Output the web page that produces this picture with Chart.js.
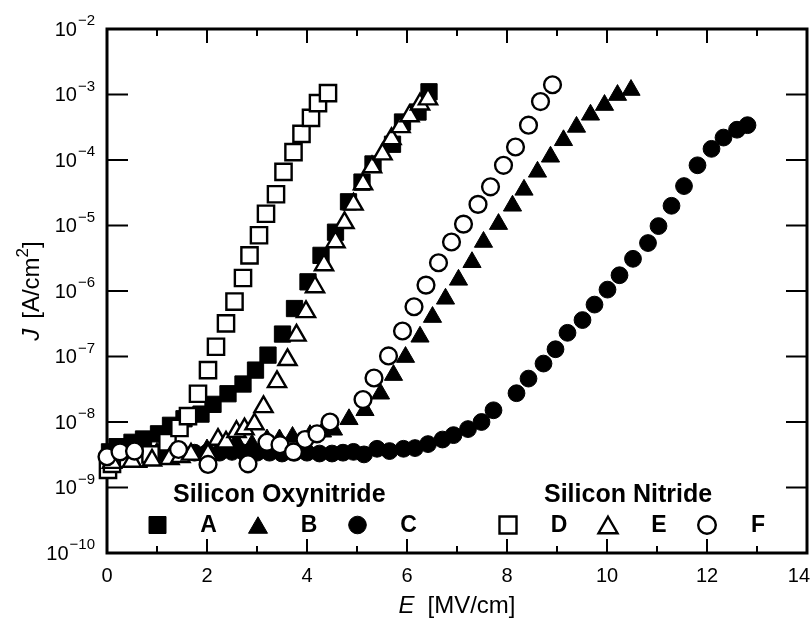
<!DOCTYPE html>
<html>
<head>
<meta charset="utf-8">
<script src="https://cdn.jsdelivr.net/npm/chart.js@4.4.0/dist/chart.umd.min.js"></script>
<style>
  html, body { margin: 0; padding: 0; background: #fff; }
</style>
</head>
<body>
<canvas id="jeChart" width="811" height="622"></canvas>
<script>
// field E [MV/cm] and current density J [A/cm2]
const eA = [0.05, 0.2, 0.5, 0.73, 1.03, 1.27, 1.54, 1.88, 2.12, 2.42, 2.72, 2.97, 3.22, 3.51, 3.75, 4.02, 4.28, 4.57, 4.83, 5.10, 5.32, 5.71, 5.91, 6.22, 6.44];
const jA = [3.5e-9, 4.2e-9, 4.9e-9, 5.5e-9, 6.6e-9, 8.9e-9, 1.12e-8, 1.32e-8, 1.86e-8, 2.7e-8, 3.8e-8, 6.2e-8, 1.05e-7, 2.2e-7, 5.4e-7, 1.38e-6, 3.5e-6, 7.9e-6, 2.3e-5, 4.6e-5, 8.7e-5, 1.74e-4, 3.8e-4, 5.4e-4, 1.1e-3];

const eB = [0.1, 0.5, 1.0, 1.5, 2.0, 2.3, 2.59, 2.9, 3.2, 3.45, 3.71, 4.06, 4.31, 4.53, 4.84, 5.16, 5.47, 5.73, 5.97, 6.26, 6.51, 6.77, 7.03, 7.30, 7.53, 7.83, 8.11, 8.34, 8.61, 8.87, 9.13, 9.39, 9.67, 9.95, 10.21, 10.48];
const jB = [2.8e-9, 3.2e-9, 3.4e-9, 3.5e-9, 3.8e-9, 4.2e-9, 4.9e-9, 4.5e-9, 5.4e-9, 5.4e-9, 5.9e-9, 6.3e-9, 7.1e-9, 7.6e-9, 1.1e-8, 1.51e-8, 2.7e-8, 5.2e-8, 9.8e-8, 2.0e-7, 4.0e-7, 7.6e-7, 1.48e-6, 2.75e-6, 5.6e-6, 1.05e-5, 2.0e-5, 3.5e-5, 6.6e-5, 1.12e-4, 2.0e-4, 3.2e-4, 4.9e-4, 6.9e-4, 9.8e-4, 1.17e-3];

const eC = [1.0, 1.25, 1.5, 1.75, 2.0, 2.25, 2.5, 2.75, 3.0, 3.25, 3.5, 3.75, 4.0, 4.25, 4.5, 4.72, 4.93, 5.14, 5.40, 5.65, 5.93, 6.16, 6.42, 6.71, 6.93, 7.22, 7.49, 7.73, 8.19, 8.43, 8.73, 8.97, 9.21, 9.51, 9.75, 10.01, 10.25, 10.52, 10.82, 11.03, 11.29, 11.54, 11.81, 12.09, 12.33, 12.60, 12.81];
const jC = [3.2e-9, 3.2e-9, 3.3e-9, 3.4e-9, 3.4e-9, 3.4e-9, 3.5e-9, 3.4e-9, 3.4e-9, 3.4e-9, 3.3e-9, 3.4e-9, 3.4e-9, 3.3e-9, 3.3e-9, 3.4e-9, 3.5e-9, 3.2e-9, 3.9e-9, 3.6e-9, 3.9e-9, 4.0e-9, 4.6e-9, 5.4e-9, 6.3e-9, 7.8e-9, 1.0e-8, 1.51e-8, 2.75e-8, 4.6e-8, 7.8e-8, 1.29e-7, 2.3e-7, 3.6e-7, 6.2e-7, 1.05e-6, 1.74e-6, 3.1e-6, 5.4e-6, 9.8e-6, 2.0e-5, 4.0e-5, 8.3e-5, 1.48e-4, 2.2e-4, 2.9e-4, 3.4e-4];

const eD = [0.02, 0.1, 0.42, 0.63, 0.87, 1.21, 1.45, 1.62, 1.82, 2.02, 2.18, 2.38, 2.55, 2.72, 2.85, 3.04, 3.18, 3.38, 3.53, 3.73, 3.89, 4.08, 4.22, 4.42];
const jD = [1.86e-9, 2.3e-9, 2.75e-9, 2.75e-9, 3.2e-9, 4.9e-9, 8.1e-9, 1.23e-8, 2.7e-8, 6.2e-8, 1.41e-7, 3.2e-7, 6.9e-7, 1.58e-6, 3.5e-6, 7.1e-6, 1.51e-5, 3.0e-5, 6.6e-5, 1.32e-4, 2.5e-4, 4.4e-4, 7.4e-4, 1.05e-3];

const eE = [0.1, 0.5, 0.9, 1.25, 1.47, 1.68, 2.02, 2.22, 2.38, 2.59, 2.75, 2.95, 3.13, 3.40, 3.61, 3.79, 3.98, 4.16, 4.34, 4.57, 4.75, 4.93, 5.12, 5.30, 5.51, 5.69, 5.87, 6.05, 6.26, 6.42];
const jE = [2.4e-9, 2.5e-9, 2.6e-9, 2.75e-9, 2.95e-9, 3.2e-9, 3.2e-9, 5.4e-9, 4.9e-9, 7.1e-9, 7.8e-9, 9.3e-9, 1.7e-8, 4.1e-8, 8.9e-8, 2.1e-7, 4.8e-7, 1.15e-6, 2.5e-6, 5.6e-6, 1.1e-5, 2.1e-5, 4.3e-5, 7.8e-5, 1.23e-4, 2.1e-4, 3.2e-4, 4.7e-4, 7.1e-4, 8.5e-4];

const eF = [0.0, 0.26, 0.55, 1.43, 2.02, 2.82, 3.20, 3.46, 3.73, 3.96, 4.20, 4.46, 5.12, 5.34, 5.63, 5.91, 6.14, 6.38, 6.63, 6.89, 7.13, 7.42, 7.67, 7.93, 8.17, 8.43, 8.67, 8.91];
const jF = [2.95e-9, 3.5e-9, 3.6e-9, 3.8e-9, 2.25e-9, 2.3e-9, 4.9e-9, 4.5e-9, 3.5e-9, 5.4e-9, 6.6e-9, 1.0e-8, 2.2e-8, 4.7e-8, 1.02e-7, 2.45e-7, 5.75e-7, 1.23e-6, 2.7e-6, 5.6e-6, 1.05e-5, 2.1e-5, 3.9e-5, 8.3e-5, 1.58e-4, 3.4e-4, 7.8e-4, 1.41e-3];

const seriesNames = ['A', 'B', 'C', 'D', 'E', 'F'];
const groupTitles = ['Silicon Oxynitride', 'Silicon Nitride'];

const xMajorTicks = [0, 2, 4, 6, 8, 10, 12, 14];
const xMinorTicks = [1, 3, 5, 7, 9, 11, 13];
const yTickExponents = [-2, -3, -4, -5, -6, -7, -8, -9, -10];

const FONT = '"Liberation Sans", Arial, Helvetica, sans-serif';

// marker look per series: shape + filled/open
const shapes = ['rect', 'triangle', 'circle', 'rect', 'triangle', 'circle'];
const filled = [true, true, true, false, false, false];
const radius = { rect: 11.5, triangle: 10.5, circle: 8.4 };

const eValues = [eA, eB, eC, eD, eE, eF];
const jValues = [jA, jB, jC, jD, jE, jF];

const datasets = seriesNames.map((name, i) => ({
  label: name,
  data: eValues[i].map((e, k) => ({ x: e, y: jValues[i][k] })),
  pointStyle: shapes[i],
  pointRadius: radius[shapes[i]],
  backgroundColor: filled[i] ? '#000' : '#fff',
  borderColor: '#000',
  borderWidth: filled[i] ? 1 : 2.4,
  showLine: false,
  clip: false,
  order: 6 - i // open symbols end up on top
}));

// rich text: pieces drawn one after the other
function drawPieces(ctx, pieces, x, y, align) {
  const widths = pieces.map(p => { ctx.font = p.font; return ctx.measureText(p.t).width + (p.gap || 0); });
  const total = widths.reduce((a, b) => a + b, 0);
  let cx = align === 'center' ? x - total / 2 : x;
  ctx.textAlign = 'left';
  ctx.textBaseline = 'middle';
  pieces.forEach((p, i) => {
    ctx.font = p.font;
    ctx.fillText(p.t, cx, y + (p.dy || 0));
    cx += widths[i];
  });
}

function drawMarker(ctx, shape, cx, cy, isFilled) {
  ctx.beginPath();
  if (shape === 'rect') {
    ctx.rect(cx - 8.5, cy - 8.5, 17, 17);
  } else if (shape === 'circle') {
    ctx.arc(cx, cy, 8.8, 0, Math.PI * 2);
  } else {
    const r = 11;
    cy += r / 4;
    ctx.moveTo(cx, cy - r);
    ctx.lineTo(cx + r * 0.866, cy + r / 2);
    ctx.lineTo(cx - r * 0.866, cy + r / 2);
    ctx.closePath();
  }
  ctx.fillStyle = isFilled ? '#000' : '#fff';
  ctx.fill();
  ctx.lineWidth = isFilled ? 1 : 2.4;
  ctx.strokeStyle = '#000';
  ctx.stroke();
}

const frameAndText = {
  id: 'frameAndText',
  beforeDatasetsDraw(chart) {
    const { ctx, chartArea: a, scales: { x, y } } = chart;
    ctx.save();
    ctx.strokeStyle = '#000';
    ctx.lineWidth = 2;
    ctx.beginPath();
    xMajorTicks.forEach(v => {
      const px = x.getPixelForValue(v);
      ctx.moveTo(px, a.bottom); ctx.lineTo(px, a.bottom - 14);
      ctx.moveTo(px, a.top); ctx.lineTo(px, a.top + 14);
    });
    xMinorTicks.forEach(v => {
      const px = x.getPixelForValue(v);
      ctx.moveTo(px, a.bottom); ctx.lineTo(px, a.bottom - 7);
      ctx.moveTo(px, a.top); ctx.lineTo(px, a.top + 7);
    });
    yTickExponents.forEach(p => {
      const py = y.getPixelForValue(Math.pow(10, p));
      ctx.moveTo(a.left, py); ctx.lineTo(a.left + 21, py);
      ctx.moveTo(a.right, py); ctx.lineTo(a.right - 21, py);
    });
    ctx.stroke();
    ctx.lineWidth = 3;
    ctx.strokeRect(a.left, a.top, a.right - a.left, a.bottom - a.top);

    // tick labels (last one kept inside the canvas, as in the original)
    ctx.fillStyle = '#000';
    ctx.font = '20px ' + FONT;
    ctx.textAlign = 'center';
    ctx.textBaseline = 'middle';
    xMajorTicks.forEach(v => {
      const label = String(v);
      const half = ctx.measureText(label).width / 2;
      const px = Math.min(x.getPixelForValue(v), chart.width - half - 1);
      ctx.fillText(label, px, a.bottom + 23);
    });

    yTickExponents.forEach(p => {
      const py = y.getPixelForValue(Math.pow(10, p));
      const exp = '\u2212' + Math.abs(p);
      ctx.font = '15px ' + FONT;
      const ew = ctx.measureText(exp).width;
      const right = a.left - 12;
      ctx.textAlign = 'left';
      ctx.textBaseline = 'middle';
      ctx.fillText(exp, right - ew, py - 8);
      ctx.font = '20px ' + FONT;
      ctx.textAlign = 'right';
      ctx.fillText('10', right - ew - 1, py + 1);
    });

    // axis titles
    drawPieces(ctx, [
      { t: 'E', font: 'italic 24px ' + FONT, gap: 13 },
      { t: '[MV/cm]', font: '24px ' + FONT }
    ], (a.left + a.right) / 2, 606, 'center');

    ctx.translate(32, (a.top + a.bottom) / 2);
    ctx.rotate(-Math.PI / 2);
    drawPieces(ctx, [
      { t: 'J', font: 'italic 24px ' + FONT, gap: 10 },
      { t: '[A/cm', font: '24px ' + FONT },
      { t: '2', font: '17px ' + FONT, dy: -9 },
      { t: ']', font: '24px ' + FONT }
    ], 0, 0, 'center');
    ctx.restore();
  },
  afterDatasetsDraw(chart) {
    const { ctx } = chart;
    ctx.save();
    ctx.fillStyle = '#000';
    ctx.textBaseline = 'middle';
    ctx.textAlign = 'left';
    ctx.font = 'bold 25px ' + FONT;
    ctx.fillText(groupTitles[0], 173, 495);
    ctx.fillText(groupTitles[1], 544, 495);

    const markerX = [157.5, 258, 357.5, 508, 608, 707];
    seriesNames.forEach((name, i) => {
      drawMarker(ctx, shapes[i], markerX[i], 525, filled[i]);
      ctx.fillStyle = '#000';
      ctx.font = 'bold 23px ' + FONT;
      ctx.textAlign = 'center';
      ctx.fillText(name, markerX[i] + 51, 526);
    });
    ctx.restore();
  }
};

new Chart(document.getElementById('jeChart'), {
  type: 'scatter',
  data: { datasets },
  options: {
    responsive: false,
    animation: false,
    events: [],
    layout: { autoPadding: false, padding: { left: 107, right: 4, top: 29, bottom: 69 } },
    plugins: {
      legend: { display: false },
      tooltip: { enabled: false }
    },
    scales: {
      x: { type: 'linear', min: 0, max: 14, display: false },
      y: { type: 'logarithmic', min: 1e-10, max: 1e-2, display: false }
    }
  },
  plugins: [frameAndText]
});
</script>
</body>
</html>
